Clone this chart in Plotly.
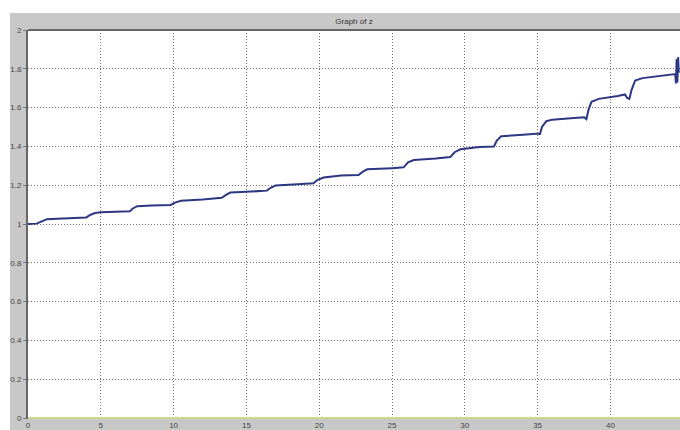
import plotly.graph_objects as go

# Time samples and the value of z along them
t = [0.0, 0.6, 0.9, 1.3, 2.0, 2.6, 3.4, 4.0, 4.3, 4.6, 5.0, 6.0, 7.0, 7.2, 7.5,
     8.5, 9.8, 10.1, 10.5, 12.0, 13.3, 13.6, 13.9, 15.0, 16.4, 16.7, 17.0, 18.5,
     19.6, 19.9, 20.3, 21.5, 22.7, 23.0, 23.3, 25.0, 25.8, 26.1, 26.5, 28.0, 29.0,
     29.3, 29.7, 31.0, 32.0, 32.2, 32.5, 34.0, 35.1, 35.15, 35.3, 35.6, 36.0, 37.5,
     38.2, 38.35, 38.5, 38.7, 39.2, 40.5, 41.0, 41.15, 41.3, 41.45, 41.7, 42.2,
     43.5, 44.3, 44.45, 44.5, 44.55, 44.6, 44.65, 44.7]
z = [1.000, 1.002, 1.012, 1.025, 1.027, 1.030, 1.032, 1.034, 1.048, 1.057, 1.060,
     1.064, 1.066, 1.080, 1.092, 1.095, 1.098, 1.110, 1.120, 1.126, 1.135, 1.150,
     1.162, 1.166, 1.172, 1.188, 1.198, 1.205, 1.210, 1.228, 1.240, 1.250, 1.252,
     1.270, 1.282, 1.288, 1.292, 1.318, 1.330, 1.338, 1.345, 1.370, 1.385, 1.397,
     1.400, 1.430, 1.452, 1.460, 1.466, 1.460, 1.500, 1.530, 1.538, 1.546, 1.550,
     1.540, 1.590, 1.630, 1.645, 1.660, 1.668, 1.650, 1.645, 1.690, 1.740, 1.752,
     1.765, 1.770, 1.773, 1.725, 1.850, 1.730, 1.860, 1.780]

# Reference series drawn along zero
baseline_t = [0.0, 45.0]
baseline = [0.0, 0.0]

x_ticks = [0, 5, 10, 15, 20, 25, 30, 35, 40]
y_ticks = [0, 0.2, 0.4, 0.6, 0.8, 1, 1.2, 1.4, 1.6, 1.8, 2]
y_labels = ["0", "0.2", "0.4", "0.6", "0.8", "1", "1.2", "1.4", "1.6", "1.8", "2"]
x_max = 44.78

W, H = 680, 430
ML, MR, MT, MB = 28, 0, 30, 9
pw = W - ML - MR
ph = H - MT - MB

fig = go.Figure()
fig.add_trace(go.Scatter(x=baseline_t, y=baseline, mode="lines",
                         line=dict(color="#cdd88f", width=2), hoverinfo="skip"))
fig.add_trace(go.Scatter(x=t, y=z, mode="lines",
                         line=dict(color="#2c3784", width=2)))

font = dict(family="Liberation Sans, Arial, sans-serif", size=8, color="#444")

fig.update_layout(
    width=W, height=H,
    margin=dict(l=ML, r=MR, t=MT, b=MB, pad=0),
    paper_bgcolor="#c8c8c8",
    plot_bgcolor="white",
    showlegend=False,
    title=dict(text="Graph of z", x=0.5, xref="paper", y=1 - 21 / H,
               yanchor="middle", xanchor="center",
               font=dict(family="Liberation Sans, Arial, sans-serif", size=8, color="#333")),
    xaxis=dict(range=[0, x_max], tickvals=x_ticks, ticktext=[str(v) for v in x_ticks],
               showgrid=True, gridcolor="#707070", griddash="1px,2px", gridwidth=1,
               zeroline=False, showline=False, ticks="", tickfont=font,
               ticklabelstandoff=0),
    yaxis=dict(range=[-0.005, 2.0], tickvals=y_ticks, ticktext=y_labels,
               showgrid=True, gridcolor="#707070", griddash="1px,2px", gridwidth=1,
               zeroline=False, showline=True, linecolor="#666", linewidth=2,
               ticks="outside", ticklen=3, tickcolor="#777", tickfont=font),
)

# White page edge above and left of the gray figure frame
fig.add_shape(type="rect", xref="paper", yref="paper",
              x0=-ML / pw - 0.01, x1=1.01, y0=1 + (MT - 13) / ph, y1=1 + MT / ph + 0.01,
              fillcolor="white", line_width=0, layer="above")
fig.add_shape(type="rect", xref="paper", yref="paper",
              x0=-ML / pw - 0.01, x1=-(ML - 10) / pw, y0=-MB / ph - 0.01, y1=1 + MT / ph + 0.01,
              fillcolor="white", line_width=0, layer="above")
# Top border of the axes box
fig.add_shape(type="line", xref="paper", yref="paper", x0=0, x1=1, y0=1, y1=1,
              line=dict(color="#666", width=2), layer="above")

fig.write_html("out.html")
